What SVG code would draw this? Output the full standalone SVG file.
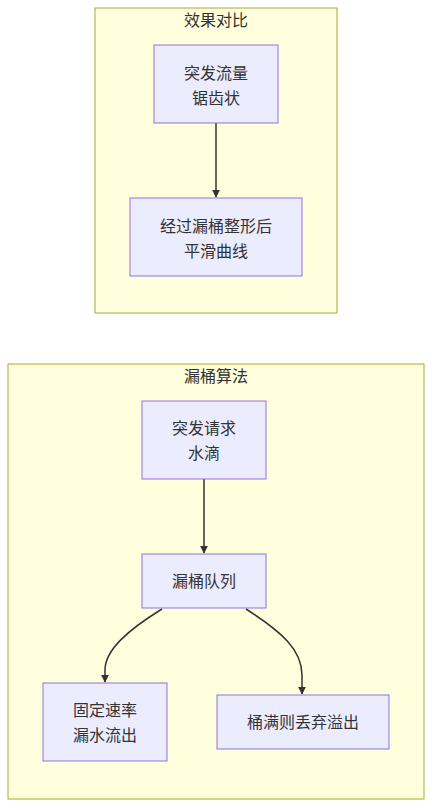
<svg xmlns="http://www.w3.org/2000/svg" width="432" height="807" viewBox="0 0 432 807">
<style>
.cluster{fill:#ffffde;stroke:#aaaa33;stroke-width:1}
.node rect{fill:#ECECFF;stroke:#9370DB;stroke-width:1}
text{font-family:"Noto Sans CJK SC","Noto Sans",sans-serif;font-size:16px;fill:#333333;text-anchor:middle}
.edge{fill:none;stroke:#333333;stroke-width:1.5}
</style>
<defs>
<marker id="arrow" viewBox="0 0 10 10" refX="9" refY="5" markerWidth="8" markerHeight="8" markerUnits="userSpaceOnUse" orient="auto">
<path d="M0,0 L10,5 L0,10 z" fill="#333333"/>
</marker>
</defs>
<rect width="432" height="807" fill="#ffffff"/>
<g id="cluster-effect">
<rect class="cluster" x="95" y="8" width="242" height="305"/>
<text x="216" y="26">效果对比</text>
</g>
<g id="cluster-bucket">
<rect class="cluster" x="8" y="364" width="416" height="435"/>
<text x="216" y="382">漏桶算法</text>
</g>
<g id="connectors">
<path class="edge" d="M216,123 L216,197" marker-end="url(#arrow)"/>
<path class="edge" d="M204,479 L204,553" marker-end="url(#arrow)"/>
<path class="edge" d="M162,609 C128,630 105,650 105,670 L105,682" marker-end="url(#arrow)"/>
<path class="edge" d="M246,609 C282,632 302,650 302,675 L302,694" marker-end="url(#arrow)"/>
</g>
<g id="node-burst" class="node">
<rect x="154" y="45" width="124" height="78"/>
<text x="216" y="79">突发流量</text>
<text x="216" y="104">锯齿状</text>
</g>
<g id="node-smooth" class="node">
<rect x="130" y="198" width="172" height="78"/>
<text x="216" y="232">经过漏桶整形后</text>
<text x="216" y="257">平滑曲线</text>
</g>
<g id="node-request" class="node">
<rect x="142" y="401" width="124" height="78"/>
<text x="204" y="434">突发请求</text>
<text x="204" y="459">水滴</text>
</g>
<g id="node-queue" class="node">
<rect x="142" y="554" width="124" height="54"/>
<text x="204" y="587">漏桶队列</text>
</g>
<g id="node-leak" class="node">
<rect x="43" y="683" width="124" height="78"/>
<text x="105" y="716">固定速率</text>
<text x="105" y="741">漏水流出</text>
</g>
<g id="node-drop" class="node">
<rect x="217" y="695" width="172" height="54"/>
<text x="303" y="728">桶满则丢弃溢出</text>
</g>
</svg>
